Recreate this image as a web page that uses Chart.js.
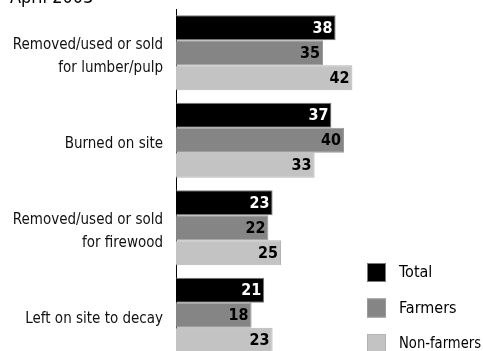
<!DOCTYPE html>
<html>
<head>
<meta charset="utf-8">
<script src="https://cdn.jsdelivr.net/npm/chart.js@4.4.0/dist/chart.umd.min.js"></script>
<style>
  html, body { margin: 0; padding: 0; background: #fff; overflow: hidden; }
  #wrap { width: 483px; height: 351px; overflow: hidden; }
</style>
</head>
<body>
<div id="wrap"><canvas id="chart" width="483" height="360"></canvas></div>
<script>
// Encuesta: destino de la madera
const categories = [
    ['Removed/used or sold', 'for lumber/pulp'],
    'Burned on site',
    ['Removed/used or sold', 'for firewood'],
    'Left on site to decay'
];
const seriesNames = ['Total', 'Farmers', 'Non-farmers'];
const totalValues = [38, 37, 23, 21];
const farmerValues = [35, 40, 22, 18];
const nonFarmerValues = [42, 33, 25, 23];
const titleText = 'April 2003';

const FONT = '"Liberation Sans Narrow", "DejaVu Sans Condensed", "Liberation Sans", sans-serif';
const fills = ['#000000', '#858585', '#c3c3c3'];
const borders = ['#7a7a7a', '#9a9a9a', '#b4b4b4'];
const labelColors = ['#ffffff', '#000000', '#000000'];

// Etiquetas de valor, leyenda y título
const extrasPlugin = {
    id: 'extras',
    afterDatasetsDraw(chart) {
        const ctx = chart.ctx;
        ctx.save();
        ctx.font = 'bold 16px ' + FONT;
        ctx.textAlign = 'right';
        ctx.textBaseline = 'middle';
        chart.data.datasets.forEach((ds, di) => {
            const meta = chart.getDatasetMeta(di);
            meta.data.forEach((bar, i) => {
                ctx.fillStyle = labelColors[di];
                ctx.fillText(String(ds.data[i]), bar.x - 3, bar.y + 1, 20);
            });
        });

        // leyenda
        ctx.font = '16px ' + FONT;
        ctx.textAlign = 'left';
        chart.data.datasets.forEach((ds, di) => {
            const top = 263 + di * 35.5;
            ctx.fillStyle = ds.backgroundColor;
            ctx.fillRect(367, top, 19, 19);
            ctx.strokeStyle = borders[di];
            ctx.lineWidth = 1;
            ctx.strokeRect(367.5, top + 0.5, 18, 18);
            ctx.fillStyle = '#000';
            ctx.fillText(ds.label, 399, top + 10, 82);
        });

        // título
        ctx.font = '18px ' + FONT;
        ctx.textBaseline = 'alphabetic';
        ctx.fillText(titleText, 10, 3, 92);
        ctx.restore();
    }
};

const ctx = document.getElementById('chart').getContext('2d');
new Chart(ctx, {
    type: 'bar',
    data: {
        labels: categories,
        datasets: [totalValues, farmerValues, nonFarmerValues].map((values, i) => ({
            label: seriesNames[i],
            data: values,
            backgroundColor: fills[i],
            borderColor: borders[i],
            borderWidth: 1,
            borderSkipped: 'left',
            categoryPercentage: 0.857,
            barPercentage: 1
        }))
    },
    options: {
        indexAxis: 'y',
        responsive: false,
        animation: false,
        layout: { padding: { top: 9, bottom: 1, left: 0, right: 97 } },
        plugins: {
            legend: { display: false },
            tooltip: { enabled: false }
        },
        scales: {
            x: {
                display: false,
                min: 0,
                max: 50
            },
            y: {
                afterFit: scale => {
                    scale.width = 176;
                    scale.paddingTop = 0;
                    scale.paddingBottom = 0;
                },
                grid: { display: false, drawTicks: false },
                border: { display: true, color: '#000', width: 1 },
                ticks: {
                    color: '#111',
                    padding: 13,
                    labelOffset: 4,
                    font: { family: FONT, size: 15, lineHeight: 1.53 }
                }
            }
        }
    },
    plugins: [extrasPlugin]
});
</script>
</body>
</html>
